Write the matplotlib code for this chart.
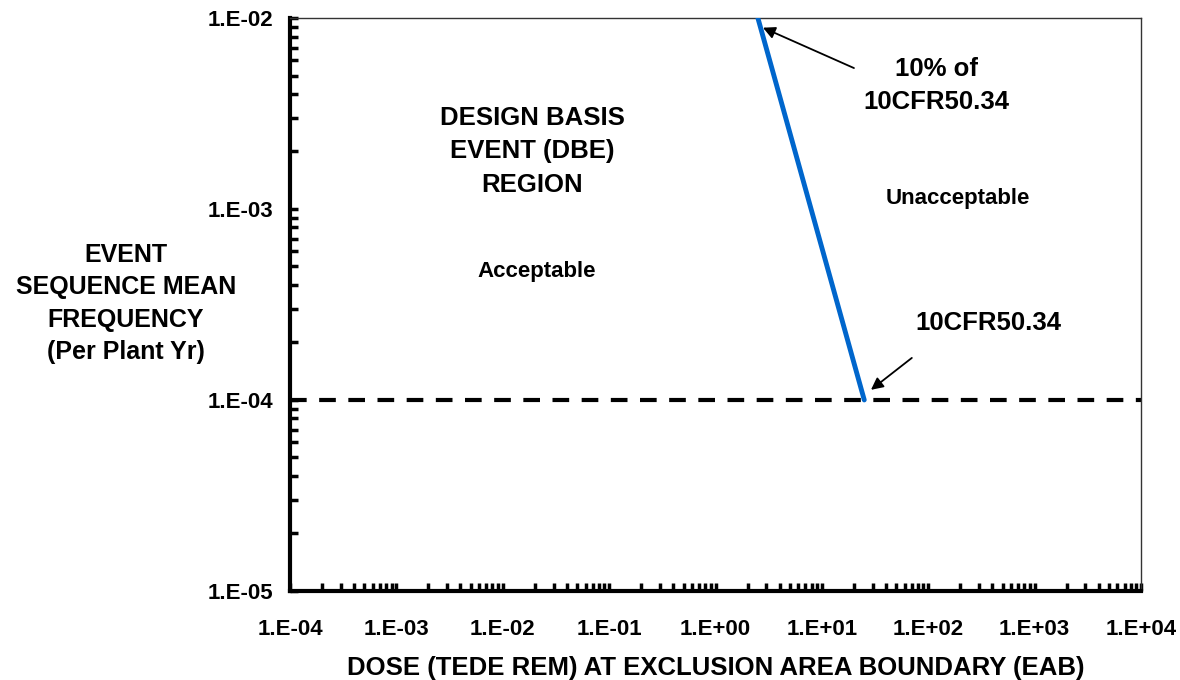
import matplotlib
matplotlib.use("Agg")
import matplotlib.pyplot as plt
from matplotlib.ticker import LogLocator, FixedLocator

plt.rcParams["font.family"] = ["Liberation Sans", "DejaVu Sans"]
plt.rcParams["font.weight"] = "bold"

# dose limit line (TEDE rem) vs event frequency (per plant yr)
limit_dose = [2.5, 25.0]
limit_freq = [1e-2, 1e-4]

# 10CFR50.34 frequency cut-off
cutoff_freq = 1e-4
x_range = [1e-4, 1e4]

x_ticks = [1e-4, 1e-3, 1e-2, 1e-1, 1e0, 1e1, 1e2, 1e3, 1e4]
x_labels = ["1.E-04", "1.E-03", "1.E-02", "1.E-01", "1.E+00", "1.E+01", "1.E+02", "1.E+03", "1.E+04"]
y_ticks = [1e-5, 1e-4, 1e-3, 1e-2]
y_labels = ["1.E-05", "1.E-04", "1.E-03", "1.E-02"]

fig = plt.figure(figsize=(11.8, 6.8), dpi=100)
ax = fig.add_axes([0.2458, 0.131, 0.7212, 0.8425])
ax.set_xscale("log")
ax.set_yscale("log")
ax.set_xlim(*x_range)
ax.set_ylim(1e-5, 1e-2)

ax.plot(x_range, [cutoff_freq, cutoff_freq], color="black", lw=3, dashes=(4, 3), zorder=2)
ax.plot(limit_dose, limit_freq, color="#0066CC", lw=3.5, solid_capstyle="round", zorder=3)

ax.xaxis.set_major_locator(FixedLocator(x_ticks))
ax.set_xticklabels(x_labels)
ax.yaxis.set_major_locator(FixedLocator(y_ticks))
ax.set_yticklabels(y_labels)
ax.xaxis.set_minor_locator(LogLocator(base=10, subs=range(2, 10), numticks=20))
ax.yaxis.set_minor_locator(LogLocator(base=10, subs=range(2, 10), numticks=20))
ax.xaxis.set_minor_formatter(plt.NullFormatter())
ax.yaxis.set_minor_formatter(plt.NullFormatter())
ax.tick_params(which="both", direction="in", length=6, width=2.5, top=False, right=False)
ax.tick_params(axis="x", which="major", labelsize=16, pad=20)
ax.tick_params(axis="y", which="major", labelsize=16, pad=12)

for side in ["left", "bottom"]:
    ax.spines[side].set_linewidth(3)
for side in ["top", "right"]:
    ax.spines[side].set_linewidth(1)
    ax.spines[side].set_color("#333333")

ax.set_xlabel("DOSE (TEDE REM) AT EXCLUSION AREA BOUNDARY (EAB)",
              fontsize=18.5, fontweight="bold", labelpad=12)
fig.text(0.1068, 0.5537, "EVENT\nSEQUENCE MEAN\nFREQUENCY\n(Per Plant Yr)",
         ha="center", va="center", fontsize=18, fontweight="bold", linespacing=1.44)

ax.text(0.0188, 2.0e-3, "DESIGN BASIS\nEVENT (DBE)\nREGION", ha="center", va="center",
        fontsize=18.5, fontweight="bold", linespacing=1.5)
ax.text(0.021, 4.7e-4, "Acceptable", ha="center", va="center", fontsize=16, fontweight="bold")
ax.text(190, 1.13e-3, "Unacceptable", ha="center", va="center", fontsize=16, fontweight="bold")
ax.text(120, 4.44e-3, "10% of\n10CFR50.34", ha="center", va="center",
        fontsize=18.5, fontweight="bold", linespacing=1.45)
ax.text(368, 2.53e-4, "10CFR50.34", ha="center", va="center", fontsize=18.5, fontweight="bold")

arrow = dict(arrowstyle="-|>", color="black", lw=1.3, mutation_scale=18, shrinkA=0, shrinkB=0)
ax.annotate("", xy=(2.79, 8.9e-3), xytext=(20, 5.47e-3), arrowprops=arrow)
ax.annotate("", xy=(28.9, 1.13e-4), xytext=(70, 1.66e-4), arrowprops=arrow)

fig.savefig("out.png", dpi=100)
